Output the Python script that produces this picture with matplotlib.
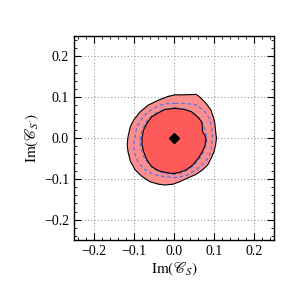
import numpy as np
import matplotlib
matplotlib.use('Agg')
import matplotlib.pyplot as plt
from matplotlib.ticker import MultipleLocator

plt.rcParams['font.family'] = ['Liberation Serif', 'DejaVu Serif']
plt.rcParams['mathtext.fontset'] = 'stix'

# Contour boundaries (data coords)
outer_x = [-0.015, 0.002, 0.022, 0.055, 0.063, 0.080, 0.092, 0.098, 0.102, 0.104, 0.106,
           0.104, 0.100, 0.093, 0.084, 0.071, 0.055, 0.034, 0.014, -0.002, -0.023, -0.039,
           -0.060, -0.080, -0.097, -0.109, -0.115, -0.117, -0.115, -0.109, -0.101, -0.084,
           -0.064, -0.039]
outer_y = [0.102, 0.106, 0.106, 0.107, 0.102, 0.085, 0.069, 0.052, 0.036, 0.016, -0.001,
           -0.016, -0.033, -0.049, -0.066, -0.078, -0.089, -0.098, -0.107, -0.113, -0.115,
           -0.113, -0.107, -0.094, -0.078, -0.057, -0.033, -0.016, 0.003, 0.028, 0.044,
           0.065, 0.081, 0.093]

inner_x = [0.002, 0.026, 0.043, 0.059, 0.069, 0.071, 0.071, 0.077, 0.080, 0.078, 0.071,
           0.061, 0.047, 0.030, 0.014, -0.002, -0.023, -0.039, -0.056, -0.068, -0.076,
           -0.080, -0.080, -0.076, -0.068, -0.056, -0.039, -0.023]
inner_y = [0.073, 0.070, 0.065, 0.052, 0.040, 0.028, 0.016, 0.007, -0.003, -0.016, -0.033,
           -0.049, -0.066, -0.078, -0.084, -0.087, -0.084, -0.080, -0.070, -0.053, -0.033,
           -0.016, 0.000, 0.020, 0.036, 0.052, 0.062, 0.070]

dash_outer_x = [0.002, 0.030, 0.055, 0.075, 0.088, 0.094, 0.096, 0.093, 0.088, 0.075, 0.055,
                0.030, 0.002, -0.027, -0.052, -0.072, -0.089, -0.097, -0.101, -0.098, -0.093,
                -0.080, -0.064, -0.043, -0.023]
dash_outer_y = [0.085, 0.085, 0.081, 0.067, 0.048, 0.028, 0.003, -0.025, -0.045, -0.061,
                -0.078, -0.092, -0.097, -0.094, -0.089, -0.078, -0.061, -0.041, -0.020,
                -0.001, 0.028, 0.048, 0.065, 0.077, 0.084]

dash_inner_x = [0.002, 0.028, 0.048, 0.062, 0.072, 0.078, 0.082, 0.080, 0.072, 0.060, 0.045,
                0.025, 0.002, -0.022, -0.045, -0.064, -0.077, -0.084, -0.084, -0.078, -0.066,
                -0.048, -0.025]
dash_inner_y = [0.074, 0.071, 0.062, 0.050, 0.035, 0.018, 0.000, -0.018, -0.038, -0.056,
                -0.071, -0.083, -0.089, -0.087, -0.079, -0.063, -0.043, -0.020, 0.003, 0.025,
                0.045, 0.060, 0.070]

best_fit = (0.0, 0.0)


def closed(xs, ys):
    return np.append(xs, xs[0]), np.append(ys, ys[0])


fig = plt.figure(figsize=(2.91, 2.91), dpi=100)
ax = fig.add_axes([0.254, 0.175, 0.688, 0.701])

ax.fill(outer_x, outer_y, color='#fc8e8e', lw=0, zorder=2)
ax.fill(inner_x, inner_y, color='#fd5a5a', lw=0, zorder=3)

for xs, ys in [(dash_outer_x, dash_outer_y), (dash_inner_x, dash_inner_y)]:
    cx, cy = closed(xs, ys)
    ax.plot(cx, cy, color='#5d72e8', ls=(0, (3, 2)), lw=0.9, zorder=4)

for xs, ys in [(outer_x, outer_y), (inner_x, inner_y)]:
    cx, cy = closed(xs, ys)
    ax.plot(cx, cy, color='black', lw=0.8, zorder=5)

ax.plot(*best_fit, marker='D', color='black', ms=5, zorder=6)

ax.set_xlim(-0.25, 0.25)
ax.set_ylim(-0.25, 0.25)
ax.xaxis.set_major_locator(MultipleLocator(0.1))
ax.yaxis.set_major_locator(MultipleLocator(0.1))
ax.xaxis.set_minor_locator(MultipleLocator(0.02))
ax.yaxis.set_minor_locator(MultipleLocator(0.02))
ax.tick_params(which='both', direction='in', top=True, right=True, labelsize=10)
ax.tick_params(which='major', length=5, width=0.8)
ax.tick_params(which='minor', length=2.5, width=0.6)
ax.grid(True, which='major', color='#999999', ls=(0, (1, 2)), lw=0.8, zorder=1)
ax.set_axisbelow(True)
for s in ax.spines.values():
    s.set_linewidth(1.0)

ax.set_xlabel(r'$\mathrm{Im}(\mathscr{C}_S)$', fontsize=11, labelpad=2)
ax.set_ylabel(r'$\mathrm{Im}(\mathscr{C}_{S^{\prime}})$', fontsize=11, labelpad=2)

fig.savefig('out.png', dpi=100)
